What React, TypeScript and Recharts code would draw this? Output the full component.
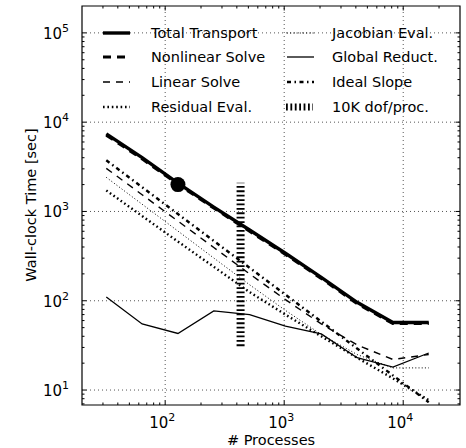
import React from "react";
import { LineChart, Line, XAxis, YAxis, ReferenceLine, ReferenceDot, ReferenceArea } from "recharts";

// number of MPI processes
const procs = [32, 64, 128, 256, 512, 1024, 2048, 4096, 8192, 16384];

// wall-clock time [sec]
const totalTransport = [7400, 4000, 2080, 1120, 620, 340, 183, 96, 57, 57];
const nonlinearSolve = [7150, 3880, 2020, 1090, 600, 330, 178, 93, 55.5, 55.5];
const linearSolve = [3040, 1540, 780, 395, 200, 103, 55, 32, 22, 25];
const residualEval = [1720, 890, 460, 240, 125, 70, 40, 23, 13.5, 7.7];
const jacobianEval = [2410, 1205, 603, 301, 151, 78, 42, 25, 17.7, 17.7];
const globalReduct = [110, 55, 43, 77, 70, 52, 42.6, 23, 18.1, 26];
const idealSlope = [3740, 1870, 935, 468, 234, 117, 58.5, 29.2, 14.6, 7.3];

// 10K dof per process marker
const dofProcs = [430, 430];
const dofTimes = [31, 2100];

// highlighted point
const markerPoint = { x: 128, y: 2000 };

const xMajor = [100, 1000, 10000];
const xMinor = [30, 40, 50, 60, 70, 80, 90, 200, 300, 400, 500, 600, 700, 800, 900,
  2000, 3000, 4000, 5000, 6000, 7000, 8000, 9000, 20000];
const yMajor = [10, 100, 1000, 10000, 100000];
const yMinor = [7, 8, 9, 20, 30, 40, 50, 60, 70, 80, 90, 200, 300, 400, 500, 600, 700, 800, 900,
  2000, 3000, 4000, 5000, 6000, 7000, 8000, 9000, 20000, 30000, 40000, 50000, 60000, 70000, 80000, 90000];

const X_DOMAIN = [20, 30000];
const Y_DOMAIN = [6.8, 200000];

const W = 466;
const H = 448;
const PLOT_LEFT = 82;
const PLOT_RIGHT = 460;
const PLOT_TOP = 6;
const PLOT_BOTTOM = 405;
const FONT = "DejaVu Sans, sans-serif";

const pts = (xs: number[], ys: number[]) => xs.map((x, i) => ({ x, y: ys[i] }));

const series = [
  { name: "Total Transport", data: totalTransport, w: 3.4, dash: undefined },
  { name: "Nonlinear Solve", data: nonlinearSolve, w: 3, dash: "8 6" },
  { name: "Linear Solve", data: linearSolve, w: 1.4, dash: "7 6" },
  { name: "Residual Eval.", data: residualEval, w: 2.4, dash: "1.6 2.8" },
  { name: "Jacobian Eval.", data: jacobianEval, w: 1, dash: "1 2.2" },
  { name: "Global Reduct.", data: globalReduct, w: 1.3, dash: undefined },
  { name: "Ideal Slope", data: idealSlope, w: 2.4, dash: "4 3.5 1.5 3.5" },
];

const sup = (v: number) => String(Math.round(Math.log10(v)));

const XTick = (props: any) => {
  const { x, payload } = props;
  const major = xMajor.includes(payload.value);
  const len = major ? 4.5 : 2.5;
  return (
    <g>
      <line x1={x} x2={x} y1={PLOT_BOTTOM} y2={PLOT_BOTTOM - len} stroke="#000" strokeWidth={1} />
      <line x1={x} x2={x} y1={PLOT_TOP} y2={PLOT_TOP + len} stroke="#000" strokeWidth={1} />
      {major && (
        <text x={x - 3} y={428} textAnchor="middle" fontSize={15} fontFamily={FONT} fill="#000">
          10<tspan dy={-7} fontSize={11}>{sup(payload.value)}</tspan>
        </text>
      )}
    </g>
  );
};

const YTick = (props: any) => {
  const { y, payload } = props;
  const major = yMajor.includes(payload.value);
  const len = major ? 4.5 : 2.5;
  return (
    <g>
      <line x1={PLOT_LEFT} x2={PLOT_LEFT + len} y1={y} y2={y} stroke="#000" strokeWidth={1} />
      <line x1={PLOT_RIGHT} x2={PLOT_RIGHT - len} y1={y} y2={y} stroke="#000" strokeWidth={1} />
      {major && (
        <text x={69} y={y + 6} textAnchor="end" fontSize={15} fontFamily={FONT} fill="#000">
          10<tspan dy={-7} fontSize={11}>{sup(payload.value)}</tspan>
        </text>
      )}
    </g>
  );
};

const legendCols = [
  { hx: 103, tx: 151, items: [series[0], series[1], series[2], series[3]] },
  { hx: 287, tx: 332, items: [series[4], series[5], series[6]] },
];
const legendRows = [33, 57, 82, 107];

function Overlay() {
  return (
    <svg width={W} height={H} style={{ position: "absolute", left: 0, top: 0, pointerEvents: "none" }}>
      {legendCols.map((col, c) =>
        col.items.map((s, r) => (
          <g key={c + "-" + r}>
            <line x1={col.hx} x2={col.hx + 27} y1={legendRows[r]} y2={legendRows[r]}
              stroke="#000" strokeWidth={s.w} strokeDasharray={s.dash} />
            <text x={col.tx} y={legendRows[r] + 5} fontSize={14.5} fontFamily={FONT} fill="#000">{s.name}</text>
          </g>
        ))
      )}
      <line x1={286} x2={313} y1={legendRows[3]} y2={legendRows[3]} stroke="#000" strokeWidth={7} strokeDasharray="1.8 2.6" />
      <text x={332} y={legendRows[3] + 5} fontSize={14.5} fontFamily={FONT} fill="#000">10K dof/proc.</text>
      <text x={271} y={445} textAnchor="middle" fontSize={14.5} fontFamily={FONT} fill="#000"># Processes</text>
      <text transform="translate(36,205) rotate(-90)" textAnchor="middle" fontSize={14.5} fontFamily={FONT} fill="#000">
        Wall-clock Time [sec]
      </text>
    </svg>
  );
}

export default function App() {
  return (
    <div style={{ position: "absolute", left: 0, top: 0, width: W, height: H, background: "#fff" }}>
      <LineChart width={W} height={H} margin={{ top: PLOT_TOP, right: W - PLOT_RIGHT, bottom: 0, left: 22 }}>
        <XAxis dataKey="x" type="number" scale="log" domain={X_DOMAIN} allowDataOverflow
          ticks={[...xMajor, ...xMinor]} interval={0} tick={<XTick />} tickLine={false} axisLine={false}
          height={H - PLOT_BOTTOM} />
        <YAxis dataKey="y" type="number" scale="log" domain={Y_DOMAIN} allowDataOverflow
          ticks={[...yMajor, ...yMinor]} interval={0} tick={<YTick />} tickLine={false} axisLine={false}
          width={60} />
        {xMajor.map((v) => (
          <ReferenceLine key={"gx" + v} x={v} stroke="#555" strokeDasharray="1 3" strokeWidth={1} />
        ))}
        {yMajor.map((v) => (
          <ReferenceLine key={"gy" + v} y={v} stroke="#555" strokeDasharray="1 3" strokeWidth={1} />
        ))}
        {series.map((s) => (
          <Line key={s.name} data={pts(procs, s.data)} dataKey="y" name={s.name} type="linear"
            stroke="#000" strokeWidth={s.w} strokeDasharray={s.dash} dot={false}
            isAnimationActive={false} />
        ))}
        <Line data={pts(dofProcs, dofTimes)} dataKey="y" name="10K dof/proc." stroke="#000"
          strokeWidth={8} strokeDasharray="1.8 2.6" dot={false} isAnimationActive={false} />
        <ReferenceDot x={markerPoint.x} y={markerPoint.y} r={7.5} fill="#000" stroke="none" />
        <ReferenceArea x1={X_DOMAIN[0]} x2={X_DOMAIN[1]} y1={Y_DOMAIN[0]} y2={Y_DOMAIN[1]}
          fill="none" stroke="#000" strokeWidth={1.2} fillOpacity={0} />
      </LineChart>
      <Overlay />
    </div>
  );
}
